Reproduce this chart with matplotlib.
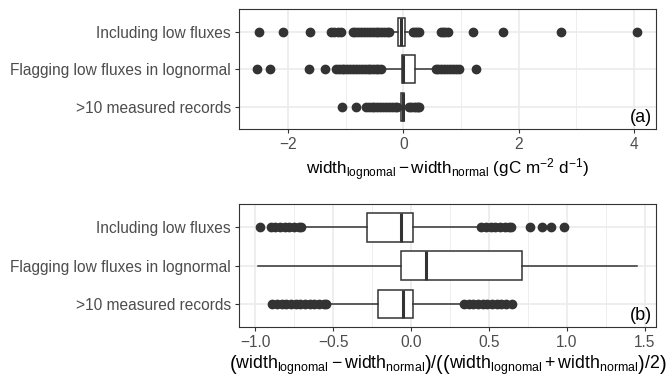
import matplotlib
matplotlib.use("Agg")
import matplotlib.pyplot as plt
from matplotlib.ticker import MultipleLocator

plt.rcParams['font.family'] = ['Liberation Sans', 'DejaVu Sans']
plt.rcParams['mathtext.fontset'] = 'custom'
plt.rcParams['mathtext.rm'] = 'Liberation Sans'
plt.rcParams['mathtext.it'] = 'Liberation Sans:italic'
plt.rcParams['mathtext.bf'] = 'Liberation Sans:bold'
plt.rcParams['mathtext.sf'] = 'Liberation Sans'

categories = ["Including low fluxes", "Flagging low fluxes in lognormal", ">10 measured records"]

# panel (a): absolute difference, box stats (q1, med, q3, whislo, whishi)
a_stats = [(-0.09, -0.04, 0.03, -0.17, 0.08),
           (-0.03, 0.00, 0.20, -0.32, 0.49),
           (-0.04, -0.01, 0.01, -0.06, 0.05)]
a_fliers_incl = [-2.50, -2.08, -1.62, -1.26, -1.20, -1.14, -1.08,
                 -0.88, -0.83, -0.78, -0.73, -0.68, -0.63, -0.58, -0.53, -0.48,
                 -0.43, -0.38, -0.33, -0.28, -0.24,
                 0.16, 0.20, 0.24, 0.28, 0.65, 0.69, 0.73, 0.77,
                 1.21, 1.73, 2.73, 4.06]
a_fliers_flag = [-2.53, -2.32, -1.64, -1.36,
                 -1.17, -1.12, -1.07, -1.02, -0.97, -0.92, -0.87, -0.82, -0.77,
                 -0.72, -0.67, -0.62, -0.57, -0.52, -0.47, -0.43, -0.39,
                 0.56, 0.61, 0.66, 0.71, 0.76, 0.81, 0.86, 0.91, 0.97, 1.26]
a_fliers_gt10 = [-1.07, -0.82,
                 -0.65, -0.60, -0.55, -0.50, -0.45, -0.40, -0.35, -0.30, -0.25,
                 -0.20, -0.15, -0.11,
                 0.10, 0.14, 0.18, 0.22, 0.26, 0.28]

# panel (b): relative difference
b_stats = [(-0.28, -0.066, 0.011, -0.68, 0.42),
           (-0.064, 0.096, 0.714, -0.98, 1.447),
           (-0.21, -0.053, 0.011, -0.52, 0.314)]
b_fliers_incl = [-0.97, -0.90, -0.87, -0.84, -0.81, -0.78, -0.75, -0.72, -0.705,
                 0.447, 0.48, 0.51, 0.54, 0.57, 0.60, 0.63, 0.64,
                 0.76, 0.84, 0.90, 0.98]
b_fliers_flag = []
b_fliers_gt10 = [-0.89, -0.86, -0.83, -0.80, -0.77, -0.74, -0.71, -0.68, -0.65,
                 -0.62, -0.59, -0.56, -0.545,
                 0.34, 0.37, 0.40, 0.43, 0.46, 0.49, 0.52, 0.55, 0.58, 0.61, 0.645]

dark = "#333333"
grid = "#EBEBEB"


def make_stats(stats, fliers):
    out = []
    for (q1, med, q3, lo, hi), fl in zip(stats, fliers):
        out.append(dict(q1=q1, med=med, q3=q3, whislo=lo, whishi=hi, fliers=fl))
    return out


def panel(ax, stats, fliers, major, minor, xlim, label, xlabel, title_size):
    ax.bxp(make_stats(stats, fliers), positions=[3, 2, 1], widths=0.75,
           orientation='horizontal', patch_artist=True, showcaps=False,
           boxprops=dict(facecolor='white', edgecolor=dark, linewidth=1.1),
           medianprops=dict(color=dark, linewidth=2.2),
           whiskerprops=dict(color=dark, linewidth=1.1),
           flierprops=dict(marker='o', markerfacecolor=dark, markeredgecolor=dark,
                           markersize=6, linestyle='none'))
    ax.set_xlim(*xlim)
    ax.set_ylim(0.4, 3.6)
    ax.set_yticks([3, 2, 1])
    ax.set_yticklabels(categories)
    ax.xaxis.set_major_locator(MultipleLocator(major))
    ax.xaxis.set_minor_locator(MultipleLocator(minor))
    ax.grid(True, which='major', color=grid, linewidth=1.2)
    ax.grid(True, which='minor', axis='x', color=grid, linewidth=0.6)
    ax.set_axisbelow(True)
    for s in ax.spines.values():
        s.set_color(dark)
        s.set_linewidth(0.8)
    ax.tick_params(which='major', length=3.2, width=0.8, color=dark,
                   labelcolor="#4D4D4D", labelsize=11.2, pad=2.5)
    ax.tick_params(which='minor', length=0)
    ax.annotate(label, xy=(1, 0), xycoords='axes fraction', xytext=(-4, 3),
                textcoords='offset pixels', ha='right', va='bottom', fontsize=13)
    ax.set_xlabel(xlabel, fontsize=title_size, labelpad=3)


fig = plt.figure(figsize=(6.67, 3.8), dpi=100)
ax_a = fig.add_axes([239 / 667, 1 - 129.3 / 380, 417 / 667, 120 / 380])
ax_b = fig.add_axes([239 / 667, 1 - 327 / 380, 417 / 667, 122.7 / 380])

panel(ax_a, a_stats, [a_fliers_incl, a_fliers_flag, a_fliers_gt10], 2, 1, (-2.849, 4.382), "(a)",
      r'$\mathrm{width}_{\mathrm{lognomal}}-\mathrm{width}_{\mathrm{normal}}\ (\mathrm{gC\ m}^{-2}\ \mathrm{d}^{-1})$',
      12.3)
panel(ax_b, b_stats, [b_fliers_incl, b_fliers_flag, b_fliers_gt10], 0.5, 0.25, (-1.103, 1.571), "(b)",
      r'$\left(\mathrm{width}_{\mathrm{lognomal}}-\mathrm{width}_{\mathrm{normal}}\right)/'
      r'\left(\left(\mathrm{width}_{\mathrm{lognomal}}+\mathrm{width}_{\mathrm{normal}}\right)/2\right)$',
      12.8)

fig.savefig("out.png", dpi=100)
